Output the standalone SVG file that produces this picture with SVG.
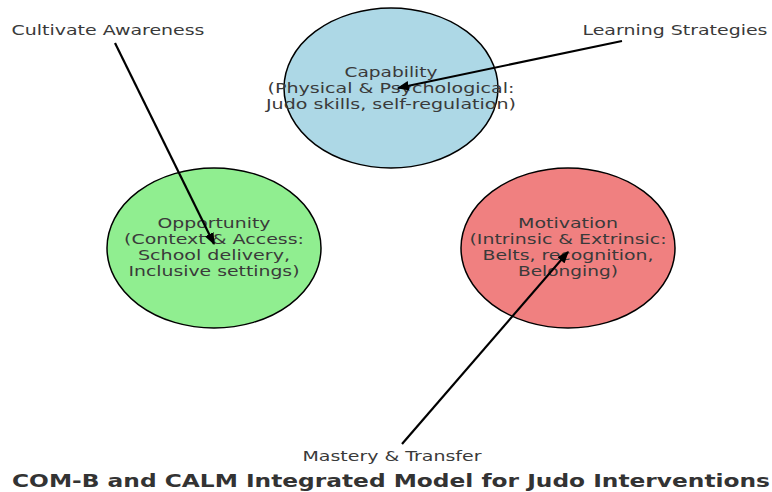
<svg xmlns="http://www.w3.org/2000/svg" width="772" height="492" viewBox="0 0 772 492">
<style>
.node ellipse{stroke:#000;stroke-width:1.5}
.t{font-family:"DejaVu Sans","Liberation Sans",sans-serif;font-size:14px;fill:#3a3a3a;text-anchor:middle}
.title{font-family:"DejaVu Sans","Liberation Sans",sans-serif;font-size:18px;font-weight:bold;fill:#333;text-anchor:middle}
.conn line{stroke:#000;stroke-width:2.2;marker-end:url(#ah)}
</style>
<defs>
<marker id="ah" viewBox="0 0 10 8" refX="9" refY="4" markerWidth="5.5" markerHeight="4.4" orient="auto" markerUnits="strokeWidth">
<path d="M0,0 L10,4 L0,8 z" fill="#000"/>
</marker>
</defs>
<rect width="772" height="492" fill="#fff"/>
<g id="capability" class="node">
<ellipse cx="391" cy="88" rx="107" ry="80" fill="#ADD8E6"/>
<text class="t" x="391" y="77" textLength="93" lengthAdjust="spacingAndGlyphs">Capability</text>
<text class="t" x="391" y="93" textLength="247" lengthAdjust="spacingAndGlyphs">(Physical &amp; Psychological:</text>
<text class="t" x="391" y="109" textLength="250" lengthAdjust="spacingAndGlyphs">Judo skills, self-regulation)</text>
</g>
<g id="opportunity" class="node">
<ellipse cx="214" cy="248" rx="107" ry="80" fill="#90EE90"/>
<text class="t" x="214" y="228" textLength="113" lengthAdjust="spacingAndGlyphs">Opportunity</text>
<text class="t" x="214" y="244" textLength="180" lengthAdjust="spacingAndGlyphs">(Context &amp; Access:</text>
<text class="t" x="214" y="260" textLength="152" lengthAdjust="spacingAndGlyphs">School delivery,</text>
<text class="t" x="214" y="276" textLength="171" lengthAdjust="spacingAndGlyphs">Inclusive settings)</text>
</g>
<g id="motivation" class="node">
<ellipse cx="568" cy="248" rx="107" ry="80" fill="#F08080"/>
<text class="t" x="568" y="228" textLength="100" lengthAdjust="spacingAndGlyphs">Motivation</text>
<text class="t" x="568" y="244" textLength="197" lengthAdjust="spacingAndGlyphs">(Intrinsic &amp; Extrinsic:</text>
<text class="t" x="568" y="260" textLength="171" lengthAdjust="spacingAndGlyphs">Belts, recognition,</text>
<text class="t" x="568" y="276" textLength="100" lengthAdjust="spacingAndGlyphs">Belonging)</text>
</g>
<g id="label-awareness">
<text class="t" x="108" y="35" textLength="193" lengthAdjust="spacingAndGlyphs">Cultivate Awareness</text>
</g>
<g id="label-strategies">
<text class="t" x="675" y="35" textLength="185" lengthAdjust="spacingAndGlyphs">Learning Strategies</text>
</g>
<g id="label-mastery">
<text class="t" x="392" y="461" textLength="179" lengthAdjust="spacingAndGlyphs">Mastery &amp; Transfer</text>
</g>
<g id="connectors" class="conn">
<line x1="115" y1="43" x2="214" y2="244"/>
<line x1="622" y1="41" x2="398" y2="88"/>
<line x1="402" y1="444" x2="568" y2="252"/>
</g>
<text class="title" x="391" y="487" textLength="758" lengthAdjust="spacingAndGlyphs">COM-B and CALM Integrated Model for Judo Interventions</text>
</svg>
